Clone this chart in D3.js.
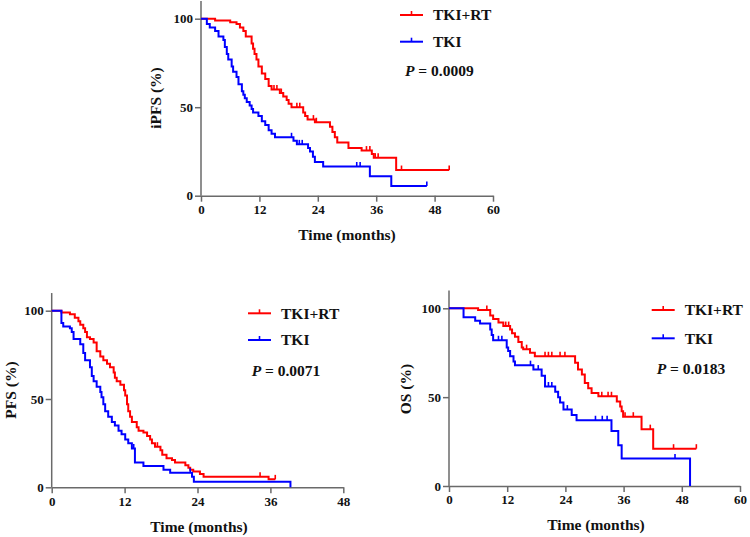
<!DOCTYPE html>
<html>
<head>
<meta charset="utf-8">
<script src="https://cdn.jsdelivr.net/npm/d3@7"></script>
<style>
  html, body { margin: 0; padding: 0; background: #fff; }
  svg { display: block; }
  text { font-family: "Liberation Serif", "Times New Roman", serif; font-weight: bold; fill: #111; }
</style>
</head>
<body>
<svg id="chart" width="750" height="537"></svg>
<script>
// ---------------- DATA ----------------
const seriesNames = ["TKI+RT", "TKI"];
const yTicks = [0, 50, 100];
const xTicksA = [0, 12, 24, 36, 48, 60];
const xTicksB = [0, 12, 24, 36, 48];
const xTicksC = [0, 12, 24, 36, 48, 60];
const pValues = ["0.0009", "0.0071", "0.0183"];
const yTitles = ["iPFS (%)", "PFS (%)", "OS (%)"];
const xTitle = "Time (months)";

// iPFS
const ipfsRT = [[0,100],[2.9,99],[6,98],[7.3,97],[8,95],[8.7,93],[9.2,90],[10.4,86],[10.7,83],[11,80],[11.4,77],[11.8,73],[12.5,69],[13.2,66],[13.9,62],[14.5,60],[16.2,58],[16.9,56],[17.6,54],[18,52],[18.6,50],[21,47],[21.4,45],[21.9,43],[23.4,41.5],[26.5,39],[27,36],[27.5,33],[28,30],[30.3,27],[33,25.5],[35.1,23.5],[35.5,21.5],[40.1,14.5]];
const ipfsRTCens = [15, 15.6, 16.5, 19.7, 20.3, 23.1, 23.7, 34, 34.7, 35.8, 36.4, 41.2, 51];
const ipfsRTEnd = 51;
const ipfsTKI = [[0,100],[1.2,97],[1.8,95],[2.9,93],[3.6,90],[4.6,88],[4.9,84],[5.3,80],[5.6,77],[6.3,73],[6.6,70],[7.3,67],[7.7,63],[8.4,59],[8.7,57],[9,55],[9.4,53],[10,51],[10.4,49],[10.7,47],[11.8,45],[12.5,42],[13.2,40],[13.9,37],[14.5,35],[15.2,33],[19,31],[19.7,29],[22,27],[22.4,25],[23,22],[23.4,19],[25.1,16.5],[34.7,11],[39.1,5.5]];
const ipfsTKICens = [18.6, 20.2, 20.8, 32, 32.7, 46.4];
const ipfsTKIEnd = 46.4;

// PFS
const pfsRT = [[0,100],[1.6,99],[3,98],[3.8,96],[4.4,94],[4.7,92],[5.2,90],[5.5,88],[5.8,85],[6.3,84],[6.9,82],[7.4,77],[8,74],[8.5,72],[9.1,70],[9.6,68],[10.2,65],[10.4,62],[10.7,60],[11.3,58],[11.9,55],[12.1,52],[12.4,47],[12.6,43],[12.9,40],[13.2,37],[14,34],[14.3,32],[15.1,31],[15.7,29],[16.2,27],[16.5,25],[17,23],[17.9,21],[18.2,18.5],[18.9,16.5],[19.8,15.5],[20.3,14],[22,12.5],[22.5,11],[22.8,10],[23.3,9],[24.4,7.5],[25,6],[35.7,4.5]];
const pfsRTCens = [17.4, 34.3, 36.8];
const pfsRTEnd = 36.8;
const pfsTKI = [[0,100],[1.6,93],[1.9,91],[3,90],[3.3,88],[3.6,84],[4.7,81],[5.2,76],[5.5,72],[6.3,68],[6.6,63],[6.9,60],[7.4,57],[8,54],[8.2,51],[8.5,47],[8.8,43],[9.3,40],[9.9,37],[10.4,35],[11,32],[11.5,30],[12.1,27],[12.6,25],[13.2,22],[13.7,14],[15.1,12],[18.4,10],[19.5,8.3],[23.1,6],[23.4,3.2],[39.3,0]];
const pfsTKICens = [13.5, 22.8];
const pfsTKIEnd = 39.3;

// OS
const osRT = [[0,100],[6,99],[8.5,96],[9.1,94],[10.2,92],[11.2,90],[12.6,88],[13,86],[13.6,84],[14.3,81],[15,78],[15.3,77],[16.7,75],[17.7,73],[26,69.3],[26.6,65.5],[27.4,62.7],[28,58],[28.7,55],[29.4,52.4],[30.8,50.5],[34.6,47.6],[35.3,44.8],[35.6,42],[35.9,39],[39.7,32],[42.1,21]];
const osRTCens = [7.8, 11.7, 12.3, 16, 16.7, 19.8, 20.5, 21.2, 22.9, 23.9, 31.5, 32.8, 33.5, 36.3, 38, 41.5, 46.3, 51];
const osRTEnd = 51;
const osTKI = [[0,100],[3,95],[5.4,93],[6.4,91.5],[8.5,88],[8.8,85],[9.1,82],[11.9,78],[12.2,76],[12.6,73],[13.3,70],[13.6,68],[17.4,65.5],[19.1,62],[19.8,56],[21.9,53],[22.5,50],[22.9,47],[23.6,43],[25.3,40],[26.3,37],[33.5,31],[34.9,23],[35.6,15.5],[49.7,0]];
const osTKICens = [10.2, 10.9, 16.8, 18.4, 20.5, 21.2, 24.4, 30.2, 31.6, 32.6, 46.6];
const osTKIEnd = 49.7;

const colors = ["#ff0000", "#0000ff"];

// ---------------- DRAW ----------------
const svg = d3.select("#chart");
const axisColor = "#6a6a6a";

function stepValue(steps, t) {
  let v = steps[0][1];
  for (const s of steps) { if (s[0] <= t) v = s[1]; else break; }
  return v;
}

function drawPanel(cfg) {
  const x = d3.scaleLinear().domain([0, cfg.xMax]).range([cfg.x0, cfg.x1]);
  const y = d3.scaleLinear().domain([0, 100]).range([cfg.y0, cfg.y100]);
  const g = svg.append("g");

  // axes
  const yAxisG = g.append("g").attr("transform", `translate(${cfg.x0},0)`)
    .call(d3.axisLeft(y).tickValues(yTicks).tickSize(6).tickSizeOuter(0).tickPadding(2));
  yAxisG.select(".domain").attr("d", `M0,${y(0)}V${y(110)}`);
  const xAxisG = g.append("g").attr("transform", `translate(0,${cfg.y0})`)
    .call(d3.axisBottom(x).tickValues(cfg.xTicks).tickSize(6).tickSizeOuter(0).tickPadding(3));
  [yAxisG, xAxisG].forEach(a => {
    a.selectAll("path, line").attr("stroke", axisColor).attr("stroke-width", 1.5);
    a.selectAll("text").attr("font-size", 13).attr("font-family", "Liberation Serif, serif")
      .attr("font-weight", "bold").attr("fill", "#111");
  });

  // titles
  g.append("text").attr("x", cfg.xtX).attr("y", cfg.xtY).attr("text-anchor", "middle")
    .attr("font-size", 15.5).text(xTitle);
  g.append("text").attr("transform", `translate(${cfg.ytX},${cfg.ytY}) rotate(-90)`)
    .attr("text-anchor", "middle").attr("dominant-baseline", "central")
    .attr("font-size", 15.5).text(cfg.yTitle);

  // curves
  const line = d3.line().x(d => x(d[0])).y(d => y(d[1])).curve(d3.curveStepAfter);
  cfg.series.forEach((s, i) => {
    const pts = s.steps.slice();
    const last = pts[pts.length - 1];
    if (last[0] < s.end) pts.push([s.end, last[1]]);
    g.append("path").datum(pts).attr("d", line).attr("fill", "none")
      .attr("stroke", colors[i]).attr("stroke-width", 2).attr("stroke-linejoin", "miter");
    g.selectAll(null).data(s.cens).enter().append("line")
      .attr("x1", d => x(d)).attr("x2", d => x(d))
      .attr("y1", d => y(stepValue(s.steps, d)))
      .attr("y2", d => y(stepValue(s.steps, d)) - 4.5)
      .attr("stroke", colors[i]).attr("stroke-width", 1.6);
  });

  // legend
  seriesNames.forEach((n, i) => {
    const ly = cfg.legY[i];
    g.append("line").attr("x1", cfg.legX).attr("x2", cfg.legX + 23).attr("y1", ly).attr("y2", ly)
      .attr("stroke", colors[i]).attr("stroke-width", 2);
    g.append("line").attr("x1", cfg.legX + 11.5).attr("x2", cfg.legX + 11.5).attr("y1", ly).attr("y2", ly - 4)
      .attr("stroke", colors[i]).attr("stroke-width", 1.6);
    g.append("text").attr("x", cfg.legX + 33).attr("y", ly + 5.3).attr("font-size", 15.5).text(n);
  });
  const pt = g.append("text").attr("x", cfg.pX).attr("y", cfg.pY).attr("font-size", 15.5);
  pt.append("tspan").attr("font-style", "italic").text("P");
  pt.append("tspan").text(" = " + cfg.p);
}

drawPanel({
  xMax: 60, x0: 201, x1: 493, y0: 195.7, y100: 18.7, xTicks: xTicksA,
  xtX: 347, xtY: 240, ytX: 155.5, ytY: 98, yTitle: yTitles[0],
  series: [
    { steps: ipfsRT, cens: ipfsRTCens, end: ipfsRTEnd },
    { steps: ipfsTKI, cens: ipfsTKICens, end: ipfsTKIEnd }
  ],
  legX: 400, legY: [15, 41.7], pX: 405, pY: 76, p: pValues[0]
});

drawPanel({
  xMax: 48, x0: 51.7, x1: 343.3, y0: 487.3, y100: 310.7, xTicks: xTicksB,
  xtX: 199, xtY: 531.5, ytX: 10, ytY: 390, yTitle: yTitles[1],
  series: [
    { steps: pfsRT, cens: pfsRTCens, end: pfsRTEnd },
    { steps: pfsTKI, cens: pfsTKICens, end: pfsTKIEnd }
  ],
  legX: 248, legY: [313.3, 340], pX: 251.7, pY: 376, p: pValues[1]
});

drawPanel({
  xMax: 60, x0: 449, x1: 740, y0: 486, y100: 308.3, xTicks: xTicksC,
  xtX: 596, xtY: 529.5, ytX: 405.5, ytY: 389, yTitle: yTitles[2],
  series: [
    { steps: osRT, cens: osRTCens, end: osRTEnd },
    { steps: osTKI, cens: osTKICens, end: osTKIEnd }
  ],
  legX: 651.7, legY: [310, 338.3], pX: 656.7, pY: 374, p: pValues[2]
});
</script>
</body>
</html>
